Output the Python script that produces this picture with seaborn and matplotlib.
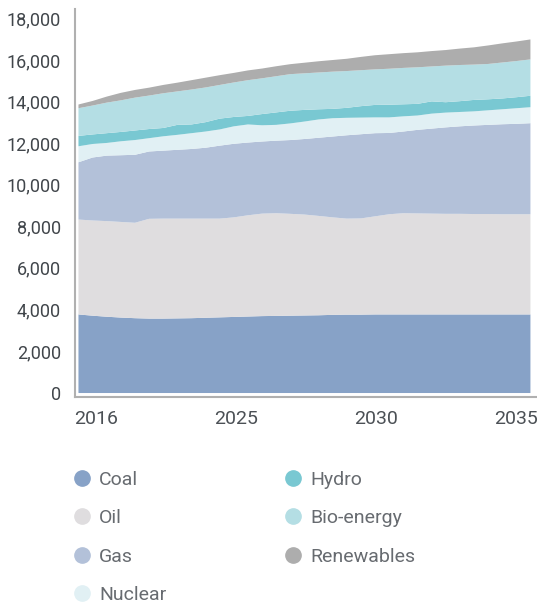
#!/usr/bin/env python3

import numpy as np
import pandas as pd
import matplotlib

matplotlib.use("Agg")
import matplotlib.pyplot as plt
import matplotlib.ticker as mticker
from matplotlib.lines import Line2D
import seaborn as sns

# data, one point per step of the projection
coal = [3780, 3720, 3670, 3630, 3600, 3580, 3580, 3590, 3600, 3620, 3640,
        3660, 3680, 3700, 3710, 3720, 3730, 3740, 3760, 3770, 3770, 3780,
        3780, 3780, 3780, 3780, 3780, 3780, 3780, 3780, 3780, 3780, 3780]
oil = [4565, 4580, 4600, 4600, 4590, 4800, 4810, 4800, 4790, 4770, 4750,
       4790, 4870, 4930, 4940, 4900, 4855, 4780, 4690, 4620, 4630, 4720,
       4820, 4870, 4860, 4850, 4840, 4840, 4830, 4830, 4820, 4820, 4820]
gas = [2755, 3030, 3150, 3210, 3270, 3240, 3270, 3310, 3350, 3410, 3510,
       3540, 3500, 3470, 3490, 3550, 3635, 3760, 3890, 4010, 4050, 4000,
       3910, 3930, 4020, 4090, 4160, 4210, 4260, 4290, 4330, 4350, 4380]
nuclear = [770, 650, 610, 670, 710, 640, 690, 720, 760, 780, 780,
           840, 870, 780, 760, 800, 840, 880, 880, 840, 800, 760,
           750, 730, 690, 720, 710, 690, 680, 700, 720, 750, 770]
hydro = [500, 460, 470, 450, 460, 440, 400, 480, 420, 450, 520,
         450, 410, 540, 600, 610, 560, 490, 450, 480, 550, 600,
         610, 580, 560, 590, 500, 520, 550, 530, 520, 530, 550]
bio_energy = [1330, 1390, 1470, 1520, 1580, 1610, 1670, 1610, 1680, 1670, 1620,
              1660, 1720, 1720, 1740, 1760, 1760, 1770, 1790, 1770, 1730, 1710,
              1730, 1750, 1760, 1680, 1760, 1740, 1700, 1700, 1730, 1740, 1750]
renewables = [180, 220, 290, 360, 370, 380, 400, 420, 450, 470, 470,
              460, 470, 470, 480, 480, 510, 540, 560, 590, 640, 680,
              700, 710, 720, 740, 750, 790, 830, 890, 920, 940, 960]

series = ["Coal", "Oil", "Gas", "Nuclear", "Hydro", "Bio-energy", "Renewables"]
colors = ["#87a2c7", "#dfdddf", "#b3c1d9", "#e1f0f4", "#79c8d2", "#b4dee4", "#adadad"]
tick_labels = ["2016", "2025", "2030", "2035"]

df = pd.DataFrame(
    dict(zip(series, [coal, oil, gas, nuclear, hydro, bio_energy, renewables]))
)
df.index.name = "step"

sns.set_theme(style="white")
plt.rcParams["font.family"] = ["Roboto", "DejaVu Sans"]

fig = plt.figure(figsize=(5.37, 6.04), dpi=100)
ax = fig.add_axes([75 / 537, 207 / 604, 462 / 537, 388 / 604])

ax.stackplot(df.index, *[df[s] for s in series], colors=colors, linewidth=0)

ax.set_xlim(-0.21, 32.5)
ax.set_ylim(-216, 18450)
ax.set_yticks(np.arange(0, 18001, 2000))
ax.yaxis.set_major_formatter(mticker.StrMethodFormatter("{x:,.0f}"))
ax.set_xticks(np.linspace(1.27, 31.0, 4))
ax.set_xticklabels(tick_labels)
ax.tick_params(axis="y", length=0, pad=10, labelsize=13, labelcolor="#41464b")
ax.tick_params(axis="x", length=0, pad=9, labelsize=14, labelcolor="#4b5055")

sns.despine(ax=ax, top=True, right=True)
for side in ["left", "bottom"]:
    ax.spines[side].set_color("#b0b0b0")
    ax.spines[side].set_linewidth(1.5)

handles = [
    Line2D([], [], marker="o", linestyle="", markersize=11,
           markerfacecolor=c, markeredgecolor=c)
    for c in colors
]
fig.legend(
    handles, series, ncol=2, loc="upper left", bbox_to_anchor=(64 / 537, 1 - 463 / 604),
    frameon=False, fontsize=14, labelcolor="#676b70", handletextpad=0.4,
    columnspacing=6.0, labelspacing=1.05, handlelength=1.0, borderaxespad=0,
)

fig.savefig("out.png", dpi=100)
